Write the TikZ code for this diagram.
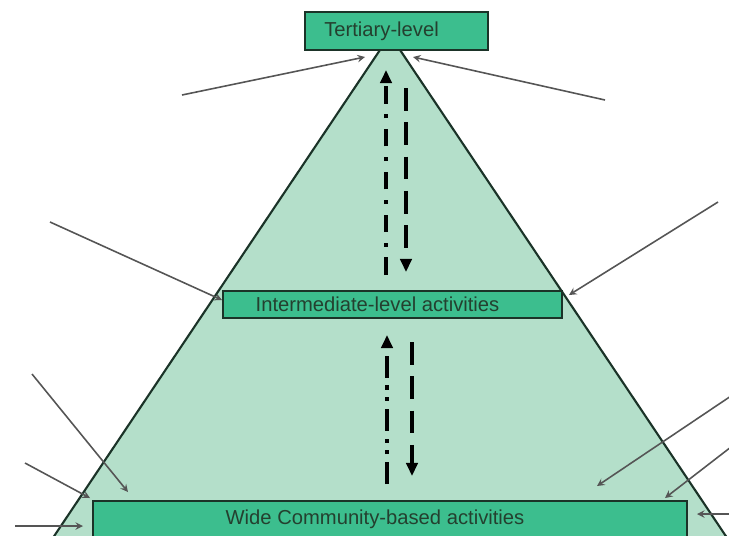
\documentclass[tikz,border=0pt]{standalone}
\usepackage{fontspec}
\setmainfont{Liberation Sans}
\usetikzlibrary{arrows,arrows.meta,calc}
\definecolor{PyramidFill}{HTML}{B4DFCA}
\definecolor{LevelGreen}{HTML}{3CBE8E}
\definecolor{LevelDark}{HTML}{1B3328}
\definecolor{LevelText}{HTML}{24402F}
\definecolor{PointerGray}{HTML}{555555}
\tikzset{
  >=stealth,
  level/.style={
    draw=LevelDark,
    line width=1.2pt,
    fill=LevelGreen,
    text=LevelText,
    inner sep=0pt,
    font=\fontsize{11.5}{13}\selectfont,
    execute at begin node={\hspace*{-0.6cm}}
  },
  pyramid/.style={draw=LevelDark, line width=1.2pt},
  pointer/.style={->, line width=0.9pt, draw=PointerGray},
  flow/.style={line width=1.8pt, draw=black},
  flowup/.style={flow, -{Triangle[length=7.5pt,width=6.5pt]}},
  dashdot/.style={dash pattern=on 10pt off 6pt on 2.4pt off 6pt},
  dashdotdot/.style={dash pattern=on 12.5pt off 4.5pt on 2.4pt off 4pt on 2.4pt off 4.5pt},
  longdash/.style={dash pattern=on 13pt off 6.5pt}
}

\begin{document}
\begin{tikzpicture}[x=0.02cm, y=-0.02cm]
  \clip (0,0) rectangle (729,535);

  % pyramid
  \coordinate (apex) at (390,35);
  \coordinate (baseL) at (20,587);
  \coordinate (baseR) at (760,587);
  \fill[PyramidFill] (baseL) -- (apex) -- (baseR) -- cycle;
  \draw[pyramid] (baseL) -- (apex) -- (baseR);

  % levels
  \node[level, minimum width=3.66cm, minimum height=0.76cm] (tertiary) at (396.5,31) {Tertiary-level};
  \node[level, minimum width=6.78cm, minimum height=0.54cm] (intermediate) at (392.5,304.5) {Intermediate-level activities};
  \node[level, minimum width=11.88cm, minimum height=0.72cm] (community) at (390,519) {Wide Community-based activities};

  % pointers from outside
  \coordinate (s1) at (182,95);   \coordinate (e1) at (365,57);
  \coordinate (s2) at (605,100);  \coordinate (e2) at (413,57);
  \coordinate (s3) at (50,222);   \coordinate (e3) at (222,300);
  \coordinate (s4) at (718,202);  \coordinate (e4) at (569,295);
  \coordinate (s5) at (32,374);   \coordinate (e5) at (128,492);
  \coordinate (s6) at (25,463);   \coordinate (e6) at (90,498);
  \coordinate (s7) at (15,526);   \coordinate (e7) at (83,526);
  \coordinate (s8) at (731,396);  \coordinate (e8) at (597,486);
  \coordinate (s9) at (731,447);  \coordinate (e9) at (665,498);
  \coordinate (s10) at (731,514); \coordinate (e10) at (697,514);
  \foreach \i in {1,...,10}
    \draw[pointer] (s\i) -- (e\i);

  % flows between levels
  \coordinate (upA) at (386,275);   \coordinate (upB) at (386,70);
  \coordinate (downA) at (406,88);  \coordinate (downB) at (406,272);
  \coordinate (upC) at (387,484);   \coordinate (upD) at (387,335);
  \coordinate (downC) at (412,342); \coordinate (downD) at (412,476);
  \draw[flowup, dashdot] (upA) -- (upB);
  \draw[flowup, longdash] (downA) -- (downB);
  \draw[flowup, dashdotdot] (upC) -- (upD);
  \draw[flowup, longdash] (downC) -- (downD);
\end{tikzpicture}
\end{document}
